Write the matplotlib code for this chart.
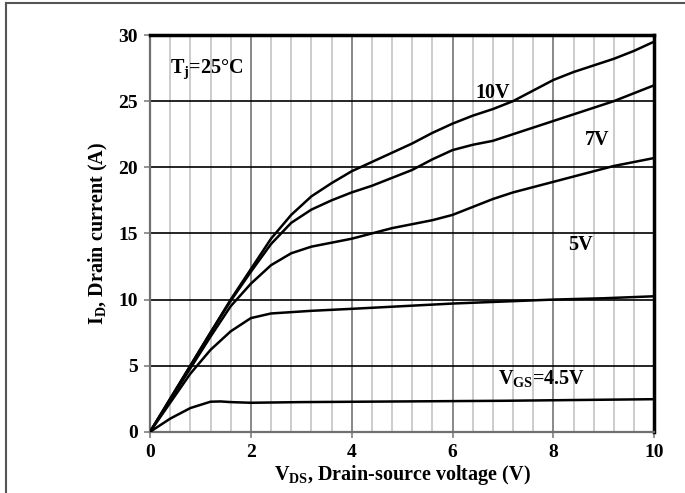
import matplotlib
matplotlib.use('Agg')
import matplotlib.pyplot as plt
from matplotlib.lines import Line2D
import numpy as np

plt.rc('font', family='Liberation Serif', weight='bold', size=12)

# V_DS (V) and I_D (A), one curve per gate voltage
vds_10 = [0, 0.4, 0.8, 1.2, 1.6, 2.0, 2.4, 2.8, 3.2, 3.6, 4.0, 4.4, 4.8, 5.2,
          5.6, 6.0, 6.4, 6.8, 7.2, 7.6, 8.0, 8.4, 8.8, 9.2, 9.6, 10]
id_10 = [0, 2.5, 5.0, 7.5, 10.0, 12.3, 14.6, 16.4, 17.8, 18.8, 19.7, 20.4,
         21.1, 21.8, 22.6, 23.3, 23.9, 24.4, 25.0, 25.8, 26.6, 27.2, 27.7,
         28.2, 28.8, 29.5]

vds_7 = [0, 0.4, 0.8, 1.2, 1.6, 2.0, 2.4, 2.8, 3.2, 3.6, 4.0, 4.4, 4.8, 5.2,
         5.6, 6.0, 6.4, 6.8, 7.2, 7.6, 8.0, 8.4, 8.8, 9.2, 9.6, 10]
id_7 = [0, 2.5, 5.0, 7.5, 9.9, 12.1, 14.2, 15.8, 16.8, 17.5, 18.1, 18.6,
        19.2, 19.8, 20.6, 21.3, 21.7, 22.0, 22.5, 23.0, 23.5, 24.0, 24.5,
        25.0, 25.6, 26.2]

vds_5 = [0, 0.4, 0.8, 1.2, 1.6, 2.0, 2.4, 2.8, 3.2, 3.6, 4.0, 4.4, 4.8, 5.2,
         5.6, 6.0, 6.4, 6.8, 7.2, 7.6, 8.0, 8.4, 8.8, 9.2, 9.6, 10]
id_5 = [0, 2.4, 4.8, 7.2, 9.5, 11.2, 12.6, 13.5, 14.0, 14.3, 14.6, 15.0,
        15.4, 15.7, 16.0, 16.4, 17.0, 17.6, 18.1, 18.5, 18.9, 19.3, 19.7,
        20.1, 20.4, 20.7]

vds_mid = [0, 0.4, 0.8, 1.2, 1.6, 2.0, 2.4, 2.8, 3.2, 4.0, 5.0, 6.0, 7.0,
           8.0, 9.0, 10]
id_mid = [0, 2.2, 4.4, 6.2, 7.6, 8.6, 8.95, 9.05, 9.15, 9.3, 9.5, 9.7, 9.85,
          10.0, 10.1, 10.25]

vds_45 = [0, 0.4, 0.8, 1.2, 1.4, 1.6, 2.0, 3.0, 5.0, 7.0, 10]
id_45 = [0, 1.0, 1.8, 2.28, 2.3, 2.25, 2.2, 2.25, 2.3, 2.35, 2.47]

fig = plt.figure(figsize=(6.85, 4.93), dpi=100)
ax = fig.add_axes([0.219, 0.124, 0.736, 0.805])

# grid: light minor verticals, darker majors, black horizontals
for x in np.arange(0.4, 10, 0.4):
    major = abs(x / 2 - round(x / 2)) < 1e-6
    ax.axvline(x, color='#888888' if major else '#c4c4c4',
               lw=1.4 if major else 1.2, zorder=1)
for y in [5, 10, 15, 20, 25]:
    ax.axhline(y, color='black', lw=1.2, zorder=1)

for xs, ys in [(vds_10, id_10), (vds_7, id_7), (vds_5, id_5),
               (vds_mid, id_mid), (vds_45, id_45)]:
    ax.plot(xs, ys, color='black', lw=1.8, zorder=3, solid_joinstyle='round')

ax.set_xlim(0, 10)
ax.set_ylim(0, 30)
ax.set_xticks([0, 2, 4, 6, 8, 10])
ax.set_yticks([0, 5, 10, 15, 20, 25, 30])
ax.tick_params(direction='out', length=4, color='#808080', width=1.2,
               labelsize=14, pad=5)
for lbl in ax.get_xticklabels() + ax.get_yticklabels():
    lbl.set_fontweight('bold')
for side in ['top', 'right']:
    ax.spines[side].set_linewidth(2.5)
    ax.spines[side].set_color('black')
for side in ['left', 'bottom']:
    ax.spines[side].set_linewidth(1.6)
    ax.spines[side].set_color('#707070')

ax.set_xlabel(r'V$_{\mathregular{DS}}$, Drain-source voltage (V)',
              fontsize=14.5, fontweight='bold', labelpad=1)
ax.set_ylabel(r'I$_{\mathregular{D}}$, Drain current (A)',
              fontsize=14.5, fontweight='bold', labelpad=6)

ax.text(0.4, 27.4, r'T$_{\mathregular{j}}$=25°C', fontsize=14.5,
        fontweight='bold', va='center')
ax.text(6.45, 25.6, '10V', fontsize=14.5, fontweight='bold', va='center')
ax.text(8.62, 22.1, '7V', fontsize=14.5, fontweight='bold', va='center')
ax.text(8.3, 14.1, '5V', fontsize=14.5, fontweight='bold', va='center')
ax.text(6.9, 4.0, r'V$_{\mathregular{GS}}$=4.5V', fontsize=14.5,
        fontweight='bold', va='center')

# outer frame of the original image (left and top edges)
fig.add_artist(Line2D([6 / 685, 6 / 685], [0, 1 - 3 / 493],
                      color='#555555', lw=1.5))
fig.add_artist(Line2D([6 / 685, 1], [1 - 3 / 493, 1 - 3 / 493],
                      color='#555555', lw=1.5))

fig.savefig('out.png', dpi=100)
